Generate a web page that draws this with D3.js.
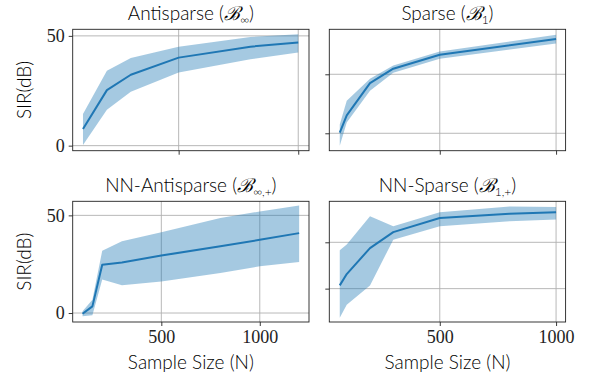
<!DOCTYPE html>
<html>
<head>
<meta charset="utf-8">
<script src="https://cdn.jsdelivr.net/npm/d3@7"></script>
<style>
  body { margin: 0; background: #fff; }
  .lbl { font-family: Lato, "Open Sans", sans-serif; font-weight: 300; fill: #000; }
  .tick text { font-family: "Liberation Serif", "DejaVu Serif", serif; }
</style>
</head>
<body>
<div id="chart"></div>
<script>
// data (SIR in dB vs sample size N)
const antiN = [100, 200, 300, 500, 800, 1000];
const antiMean = [7.6, 25.3, 32.3, 40.1, 45.1, 47.0];
const antiLo = [0.3, 16.4, 24.5, 33.3, 39.4, 42.4];
const antiHi = [14.4, 34.1, 39.9, 45.1, 49.5, 50.8];

const sparseN = [70, 100, 200, 300, 500, 1000];
const sparseMean = [20.2, 26.1, 37.0, 41.9, 46.6, 52.0];
const sparseLo = [15.8, 23.7, 34.4, 40.5, 45.3, 50.4];
const sparseHi = [23.0, 31.0, 38.5, 43.0, 47.7, 53.4];

const nnAntiN = [100, 150, 200, 300, 500, 800, 1000, 1200];
const nnAntiMean = [-0.4, 3.4, 24.7, 25.9, 29.4, 34.2, 37.5, 40.9];
const nnAntiLo = [-1.7, -1.2, 17.1, 14.2, 16.2, 20.5, 23.9, 26.1];
const nnAntiHi = [0.9, 6.8, 31.9, 36.7, 41.3, 48.6, 52.0, 55.1];

const nnSparseN = [70, 100, 200, 300, 500, 800, 1000];
const nnSparseMean = [21.4, 26.3, 37.5, 44.4, 50.5, 52.3, 53.0];
const nnSparseLo = [7.4, 13.1, 21.4, 41.1, 46.9, 49.1, 49.8];
const nnSparseHi = [36.6, 39.0, 51.2, 46.9, 53.0, 55.5, 55.2];

const xTicks = [500, 1000];
const yTicksLeft = [0, 50];
const yTicksRight = [20, 40];

const panels = [
  { title: "Antisparse (", sym: "ℬ", sub: "∞", n: antiN, mean: antiMean, lo: antiLo, hi: antiHi,
    box: [72.7, 29.3, 309, 150.7], xd: [57, 1045], yd: [-2.3, 53.0], yt: yTicksLeft, yLabels: true, xLabels: false },
  { title: "Sparse (", sym: "ℬ", sub: "1", n: sparseN, mean: sparseMean, lo: sparseLo, hi: sparseHi,
    box: [329.3, 29.3, 565.6, 150.7], xd: [25, 1041], yd: [14.1, 55.25], yt: yTicksRight, yLabels: false, xLabels: false },
  { title: "NN-Antisparse (", sym: "ℬ", sub: "∞,+", n: nnAntiN, mean: nnAntiMean, lo: nnAntiLo, hi: nnAntiHi,
    box: [72.7, 201.3, 309, 322], xd: [50, 1250], yd: [-4.6, 57.2], yt: yTicksLeft, yLabels: true, xLabels: true },
  { title: "NN-Sparse (", sym: "ℬ", sub: "1,+", n: nnSparseN, mean: nnSparseMean, lo: nnSparseLo, hi: nnSparseHi,
    box: [329.3, 201.3, 565.6, 322], xd: [25, 1041], yd: [5.6, 57.7], yt: yTicksRight, yLabels: false, xLabels: true }
];

const svg = d3.select("#chart").append("svg")
  .attr("width", 590)
  .attr("height", 384);

const blue = "#1f77b4";

panels.forEach(p => {
  const [x0, y0, x1, y1] = p.box;
  const x = d3.scaleLinear().domain(p.xd).range([x0, x1]);
  const y = d3.scaleLinear().domain(p.yd).range([y1, y0]);
  const g = svg.append("g");

  // grid
  g.selectAll(".gx").data(xTicks).enter().append("line")
    .attr("x1", d => x(d)).attr("x2", d => x(d))
    .attr("y1", y0).attr("y2", y1)
    .attr("stroke", "#b0b0b0").attr("stroke-width", 0.9);
  g.selectAll(".gy").data(p.yt).enter().append("line")
    .attr("x1", x0).attr("x2", x1)
    .attr("y1", d => y(d)).attr("y2", d => y(d))
    .attr("stroke", "#b0b0b0").attr("stroke-width", 0.9);

  const rows = p.n.map((v, i) => ({ n: v, m: p.mean[i], lo: p.lo[i], hi: p.hi[i] }));

  g.append("path")
    .datum(rows)
    .attr("fill", blue)
    .attr("fill-opacity", 0.4)
    .attr("d", d3.area().x(d => x(d.n)).y0(d => y(d.lo)).y1(d => y(d.hi)));

  g.append("path")
    .datum(rows)
    .attr("fill", "none")
    .attr("stroke", blue)
    .attr("stroke-width", 2)
    .attr("stroke-linejoin", "round")
    .attr("d", d3.line().x(d => x(d.n)).y(d => y(d.m)));

  // axes
  const xa = d3.axisBottom(x).tickValues(xTicks).tickSize(4).tickPadding(4)
    .tickFormat(p.xLabels ? d3.format("d") : () => "");
  const ya = d3.axisLeft(y).tickValues(p.yt).tickSize(4).tickPadding(4)
    .tickFormat(p.yLabels ? d3.format("d") : () => "");

  const gx = g.append("g").attr("transform", `translate(0,${y1})`).call(xa);
  const gy = g.append("g").attr("transform", `translate(${x0},0)`).call(ya);
  [gx, gy].forEach(a => {
    a.select(".domain").remove();
    a.selectAll(".tick line").attr("stroke", "#222").attr("stroke-width", 0.9);
    a.selectAll(".tick text").attr("fill", "#222").style("font-size", "18px");
  });

  // frame
  g.append("rect")
    .attr("x", x0).attr("y", y0)
    .attr("width", x1 - x0).attr("height", y1 - y0)
    .attr("fill", "none").attr("stroke", "#222").attr("stroke-width", 0.9);

  // title
  const t = g.append("text").attr("class", "lbl")
    .attr("x", (x0 + x1) / 2).attr("y", y0 - 9)
    .attr("text-anchor", "middle")
    .style("font-size", "19px");
  t.append("tspan").text(p.title);
  t.append("tspan").text(p.sym).style("font-family", "'DejaVu Serif', serif").style("font-style", "italic");
  t.append("tspan").text(p.sub).attr("dy", 4).style("font-size", "12px");
  t.append("tspan").text(")").attr("dy", -4);

  if (p.yLabels) {
    g.append("text").attr("class", "lbl")
      .attr("transform", `translate(31,${(y0 + y1) / 2}) rotate(-90)`)
      .attr("text-anchor", "middle")
      .style("font-size", "19px")
      .text("SIR(dB)");
  }
  if (p.xLabels) {
    g.append("text").attr("class", "lbl")
      .attr("x", (x0 + x1) / 2).attr("y", 369)
      .attr("text-anchor", "middle")
      .style("font-size", "19px")
      .text("Sample Size (N)");
  }
});
</script>
</body>
</html>
